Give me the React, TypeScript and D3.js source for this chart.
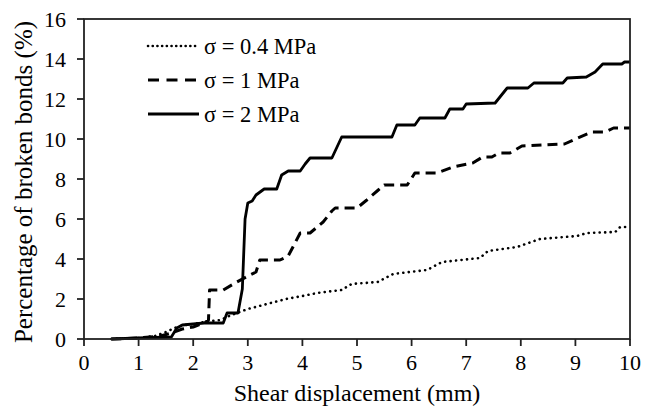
import * as d3 from 'd3';
import React from 'react';

// values (shear displacement in mm, broken bonds in %)
const sigma04X = [0.5, 1.0, 1.3, 1.5, 1.7, 1.85, 2.0, 2.2, 2.5, 2.7, 3.0, 3.35, 3.7, 4.0, 4.27, 4.72, 4.9, 5.38, 5.66, 6.28, 6.56, 7.25, 7.4, 7.93, 8.35, 9.03, 9.21, 9.73, 9.82, 10];
const sigma04Y = [0, 0.05, 0.15, 0.35, 0.6, 0.7, 0.75, 0.85, 0.95, 1.2, 1.5, 1.75, 2.0, 2.15, 2.3, 2.45, 2.75, 2.85, 3.25, 3.45, 3.85, 4.05, 4.4, 4.6, 5.0, 5.15, 5.3, 5.35, 5.6, 5.6];

const sigma1X = [0.5, 1.0, 1.4, 1.6, 1.8, 2.0, 2.2, 2.28, 2.3, 2.55, 2.8, 3.04, 3.15, 3.22, 3.59, 3.74, 3.96, 4.14, 4.38, 4.54, 4.6, 5.0, 5.18, 5.39, 5.5, 5.92, 6.06, 6.46, 6.76, 7.12, 7.3, 7.47, 7.6, 7.8, 8.02, 8.8, 9.0, 9.3, 9.55, 9.7, 10];
const sigma1Y = [0, 0.05, 0.15, 0.3, 0.5, 0.6, 0.8, 0.95, 2.45, 2.45, 2.85, 3.2, 3.35, 3.95, 3.95, 4.15, 5.3, 5.3, 5.85, 6.4, 6.55, 6.55, 6.95, 7.45, 7.7, 7.7, 8.3, 8.3, 8.6, 8.8, 9.1, 9.1, 9.3, 9.3, 9.65, 9.75, 10.0, 10.35, 10.35, 10.55, 10.55];

const sigma2X = [0.5, 1.0, 1.6, 1.7, 1.8, 2.2, 2.55, 2.62, 2.82, 2.9, 2.95, 3.0, 3.08, 3.15, 3.3, 3.53, 3.62, 3.74, 3.96, 4.05, 4.14, 4.54, 4.72, 5.64, 5.73, 6.06, 6.15, 6.61, 6.7, 6.94, 7.0, 7.53, 7.75, 8.13, 8.24, 8.77, 8.85, 9.2, 9.36, 9.5, 9.85, 9.9, 10];
const sigma2Y = [0, 0.05, 0.1, 0.55, 0.7, 0.8, 0.8, 1.3, 1.3, 2.5, 6.0, 6.8, 6.9, 7.2, 7.5, 7.5, 8.2, 8.4, 8.4, 8.75, 9.05, 9.05, 10.1, 10.1, 10.7, 10.7, 11.05, 11.05, 11.5, 11.5, 11.75, 11.8, 12.55, 12.55, 12.8, 12.8, 13.05, 13.1, 13.35, 13.75, 13.75, 13.85, 13.85];

const seriesNames = ['σ = 0.4 MPa', 'σ = 1 MPa', 'σ = 2 MPa'];
const xTicks = [0, 1, 2, 3, 4, 5, 6, 7, 8, 9, 10];
const yTicks = [0, 2, 4, 6, 8, 10, 12, 14, 16];

const W = 646;
const H = 412;
const margin = { left: 84, right: 16, top: 19, bottom: 73 };
const font = "'Liberation Serif', 'Times New Roman', 'DejaVu Serif', serif";

export default function App() {
  const x = d3.scaleLinear().domain([0, 10]).range([margin.left, W - margin.right]);
  const y = d3.scaleLinear().domain([0, 16]).range([H - margin.bottom, margin.top]);

  const line = d3.line<[number, number]>().x((d) => x(d[0])).y((d) => y(d[1]));
  const zip = (xs: number[], ys: number[]) => xs.map((v, i) => [v, ys[i]] as [number, number]);

  const series = [
    { pts: zip(sigma04X, sigma04Y), dash: '0.1 5.4', width: 2.6, cap: 'round' },
    { pts: zip(sigma1X, sigma1Y), dash: '10 6', width: 3, cap: 'butt' },
    { pts: zip(sigma2X, sigma2Y), dash: null, width: 2.8, cap: 'butt' },
  ];

  const legendDash = ['0.1 4.6', '11 7.5', null];
  const legendY = [46, 80, 114];

  return (
    <svg
      width={W}
      height={H}
      style={{ display: 'block', position: 'absolute', left: 0, top: 0, fontFamily: font }}
    >
      <rect width={W} height={H} fill="#fff" />
      {series.map((s, i) => (
        <path
          key={i}
          d={line(s.pts) || ''}
          fill="none"
          stroke="#000"
          strokeWidth={s.width}
          strokeDasharray={s.dash || undefined}
          strokeLinecap={s.cap as any}
          strokeLinejoin="round"
        />
      ))}
      {/* frame */}
      <rect
        x={x(0)}
        y={y(16)}
        width={x(10) - x(0)}
        height={y(0) - y(16)}
        fill="none"
        stroke="#222"
        strokeWidth={1.8}
      />
      {xTicks.map((t) => (
        <g key={'x' + t}>
          <line x1={x(t)} x2={x(t)} y1={y(0)} y2={y(0) + 7} stroke="#222" strokeWidth={1.8} />
          <text x={x(t)} y={y(0) + 31} textAnchor="middle" fontSize={22}>
            {t}
          </text>
        </g>
      ))}
      {yTicks.map((t) => (
        <g key={'y' + t}>
          <line x1={x(0) - 7} x2={x(0)} y1={y(t)} y2={y(t)} stroke="#222" strokeWidth={1.8} />
          <text x={x(0) - 18} y={y(t)} dy="0.35em" textAnchor="end" fontSize={22}>
            {t}
          </text>
        </g>
      ))}
      <text x={(x(0) + x(10)) / 2} y={y(0) + 62} textAnchor="middle" fontSize={24}>
        Shear displacement (mm)
      </text>
      <text
        transform={`translate(23, ${(y(0) + y(16)) / 2 + 3}) rotate(-90)`}
        textAnchor="middle"
        dy="0.35em"
        fontSize={25}
      >
        Percentage of broken bonds (%)
      </text>
      {seriesNames.map((name, i) => (
        <g key={name}>
          <line
            x1={148}
            x2={199}
            y1={legendY[i]}
            y2={legendY[i]}
            stroke="#000"
            strokeWidth={series[i].width}
            strokeDasharray={legendDash[i] || undefined}
            strokeLinecap={series[i].cap as any}
          />
          <text x={204} y={legendY[i]} dy="0.35em" fontSize={22.5}>
            {name}
          </text>
        </g>
      ))}
    </svg>
  );
}
